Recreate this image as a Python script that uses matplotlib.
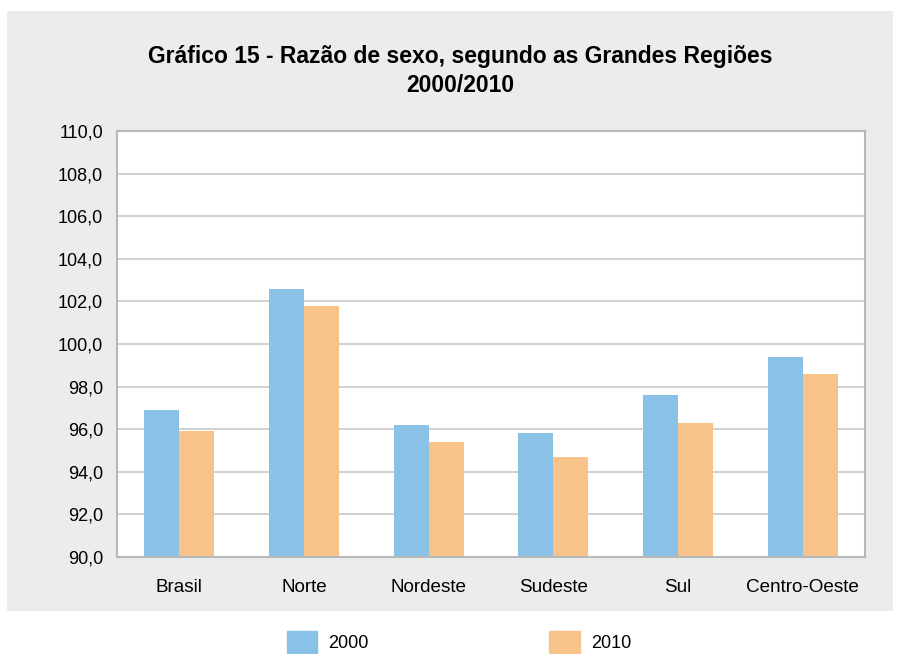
import numpy as np
import matplotlib
matplotlib.use('Agg')
import matplotlib.pyplot as plt
from matplotlib.patches import Rectangle, Patch

regions = ['Brasil', 'Norte', 'Nordeste', 'Sudeste', 'Sul', 'Centro-Oeste']
values_2000 = [96.9, 102.6, 96.2, 95.8, 97.6, 99.4]
values_2010 = [95.9, 101.8, 95.4, 94.7, 96.3, 98.6]
yticks = [90, 92, 94, 96, 98, 100, 102, 104, 106, 108, 110]

plt.rcParams['font.family'] = ['Liberation Sans', 'DejaVu Sans']

W, H = 901, 654
fig = plt.figure(figsize=(W / 100, H / 100), dpi=100)
fig.patch.set_facecolor('white')

# gray panel behind the chart
fig.patches.append(Rectangle((7 / W, 1 - 611 / H), 886 / W, 600 / H,
                             transform=fig.transFigure, facecolor='#EBECEC',
                             edgecolor='none', zorder=-5))

ax = fig.add_axes([117 / W, 1 - 557 / H, 748 / W, 426 / H])
ax.set_facecolor('white')

x = np.arange(len(regions))
w = 0.28
ax.bar(x - w / 2, values_2000, w, color='#89C2E6', label='2000', zorder=2)
ax.bar(x + w / 2, values_2010, w, color='#F8C38A', label='2010', zorder=2)

ax.set_ylim(90, 110)
ax.set_xlim(-0.5, len(regions) - 0.5)
ax.set_yticks(yticks)
ax.set_yticklabels([f'{v:.1f}'.replace('.', ',') for v in yticks], fontsize=13)
ax.set_xticks(x)
ax.set_xticklabels(regions, fontsize=13.6)
ax.tick_params(axis='y', length=0, pad=10)
ax.tick_params(axis='x', length=0, pad=15.5)
ax.yaxis.grid(True, color='#C8C8C8', linewidth=1.2, zorder=1)
ax.set_axisbelow(True)
for s in ax.spines.values():
    s.set_color('#B8B8B8')
    s.set_linewidth(1.5)

fig.text(0.511, 1 - 57 / H, 'Gráfico 15 - Razão de sexo, segundo as Grandes Regiões',
         ha='center', va='center', fontsize=16.5, fontweight='bold')
fig.text(0.511, 1 - 86 / H, '2000/2010', ha='center', va='center',
         fontsize=16.5, fontweight='bold')

handles = [Patch(color='#89C2E6', label='2000'), Patch(color='#F8C38A', label='2010')]
fig.legend(handles=handles, loc='center left', bbox_to_anchor=(274 / W, 1 - 642 / H),
           ncol=2, frameon=False, fontsize=13, handlelength=1.7, handleheight=1.5,
           columnspacing=10.0, handletextpad=0.6, borderpad=0.2)

fig.savefig('out.png', dpi=100)
